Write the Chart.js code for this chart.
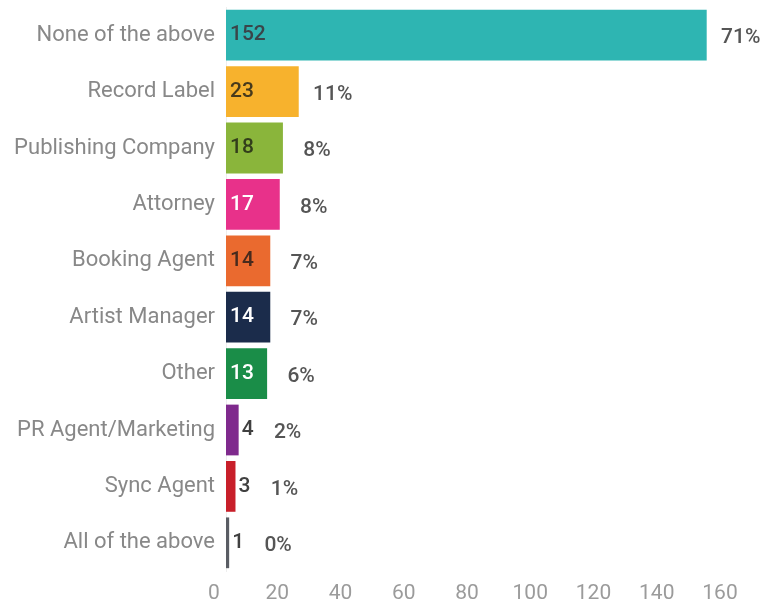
<!DOCTYPE html>
<html>
<head>
<meta charset="utf-8">
<script src="https://cdn.jsdelivr.net/npm/chart.js@4"></script>
<style>
    html, body { margin: 0; padding: 0; background: #ffffff; }
    #chart-wrap { width: 770px; height: 605px; }
</style>
</head>
<body>
<div id="chart-wrap"><canvas id="chart-roles"></canvas></div>
<script>
const categories = [
    'None of the above', 'Record Label', 'Publishing Company', 'Attorney', 'Booking Agent',
    'Artist Manager', 'Other', 'PR Agent/Marketing', 'Sync Agent', 'All of the above'
];
const counts = [152, 23, 18, 17, 14, 14, 13, 4, 3, 1];
const percents = ['71%', '11%', '8%', '8%', '7%', '7%', '6%', '2%', '1%', '0%'];
const barColors = [
    '#2eb5b2', '#f7b22d', '#8ab53b', '#e8318a', '#ea6a2f',
    '#1b2c4b', '#1a8d48', '#7f2a8d', '#c81f2a', '#5a5d64'
];
const countColors = [
    '#3a4549', '#473a1c', '#323d1b', '#ffffff', '#472a1d',
    '#ffffff', '#ffffff', '#404040', '#404040', '#404040'
];
const xTicks = [0, 20, 40, 60, 80, 100, 120, 140, 160];

const fontFamily = 'Roboto, "Noto Sans", sans-serif';

// Count inside the bar (or just past it when it doesn't fit), share further right
const barLabels = {
    id: 'barLabels',
    afterDatasetsDraw(chart) {
        const ctx = chart.ctx;
        const meta = chart.getDatasetMeta(0);
        ctx.save();
        ctx.textBaseline = 'middle';
        meta.data.forEach((bar, i) => {
            ctx.font = '500 21px ' + fontFamily;
            ctx.textAlign = 'left';
            const text = String(counts[i]);
            const w = ctx.measureText(text).width;
            const barW = bar.x - bar.base;
            let x, color;
            if (w + 8 < barW) {
                x = bar.base + 4;
                color = countColors[i];
            } else {
                x = bar.x + 3;
                color = '#404040';
            }
            ctx.fillStyle = color;
            ctx.fillText(text, x, bar.y);

            const textEnd = x + w;
            const pctX = Math.max(bar.x, textEnd) + 34;
            ctx.textAlign = 'center';
            ctx.fillStyle = '#555555';
            ctx.fillText(percents[i], pctX, bar.y + 3);
        });
        ctx.restore();
    }
};

function loadGraph() {
    const config = {
        type: 'bar',
        data: {
            labels: categories,
            datasets: [{
                data: counts,
                backgroundColor: barColors,
                borderWidth: 0,
                categoryPercentage: 1,
                barPercentage: 0.9
            }]
        },
        options: {
            indexAxis: 'y',
            responsive: true,
            maintainAspectRatio: false,
            animation: false,
            layout: {
                padding: { top: 7, right: 38, bottom: 0, left: 0 }
            },
            scales: {
                x: {
                    min: 0,
                    max: 160,
                    afterBuildTicks: (scale) => {
                        scale.ticks = xTicks.map(v => ({ value: v }));
                    },
                    afterFit: (scale) => {
                        scale.height = 34;
                        scale.paddingLeft = 0;
                        scale.paddingRight = 0;
                    },
                    grid: { display: false },
                    border: { display: false },
                    ticks: {
                        color: '#9b9b9b',
                        padding: 2,
                        labelOffset: -12,
                        maxRotation: 0,
                        font: { family: fontFamily, size: 21 }
                    }
                },
                y: {
                    afterFit: (scale) => {
                        scale.width = 226;
                        scale.paddingTop = 0;
                        scale.paddingBottom = 0;
                    },
                    grid: { display: false },
                    border: { display: true, color: '#eeeeee', width: 1 },
                    ticks: {
                        color: '#888888',
                        padding: 3,
                        font: { family: fontFamily, size: 22 }
                    }
                }
            },
            plugins: {
                legend: { display: false },
                tooltip: { enabled: false }
            }
        },
        plugins: [barLabels]
    };

    const ctx = document.getElementById('chart-roles').getContext('2d');
    new Chart(ctx, config);
}

document.addEventListener('DOMContentLoaded', function () {
    loadGraph();
});
</script>
</body>
</html>
